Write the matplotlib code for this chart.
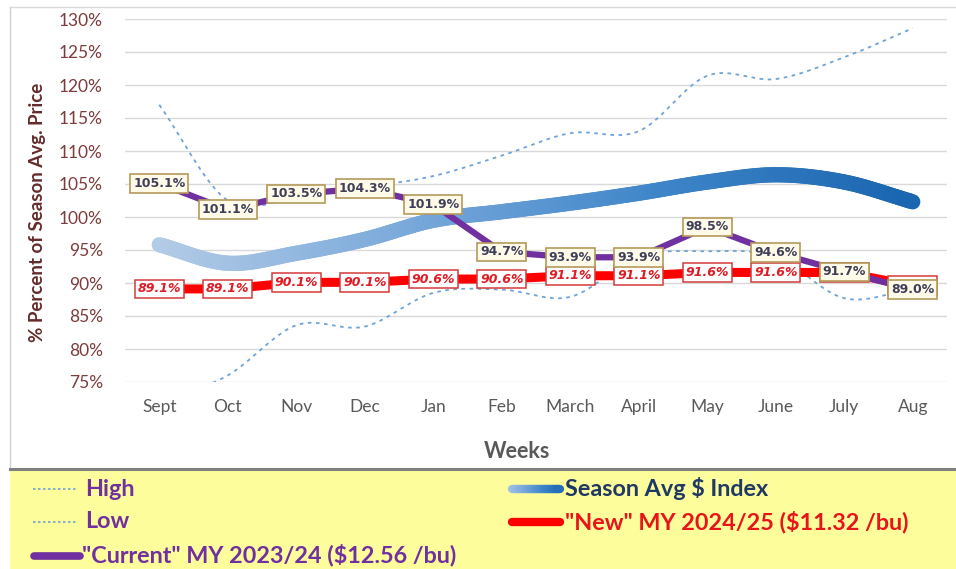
import numpy as np
import matplotlib.pyplot as plt
from matplotlib.collections import LineCollection
from matplotlib.colors import LinearSegmentedColormap
from matplotlib.lines import Line2D
from matplotlib.patches import Rectangle

plt.rcParams["font.family"] = ["Lato", "DejaVu Sans"]

months = ["Sept", "Oct", "Nov", "Dec", "Jan", "Feb", "March", "April",
          "May", "June", "July", "Aug"]
high = [117.0, 102.5, 103.0, 104.5, 106.2, 109.3, 112.7, 113.0, 121.4, 120.9, 124.2, 128.6]
low = [72.0, 76.0, 83.6, 83.4, 88.5, 89.0, 87.9, 94.0, 94.8, 94.0, 87.7, 89.1]
season_idx = [95.8, 93.0, 94.5, 96.6, 99.5, 100.8, 102.1, 103.6, 105.3, 106.4, 105.3, 102.3]
current = [105.1, 101.1, 103.5, 104.3, 101.9, 94.7, 93.9, 93.9, 98.5, 94.6, 91.7, 89.0]
new = [89.1, 89.1, 90.1, 90.1, 90.6, 90.6, 91.1, 91.1, 91.6, 91.6, 91.6, 89.6]
yticks = list(range(75, 131, 5))

PURPLE = "#7030a0"
RED = "#ff0000"
DOT = "#6fa3d6"
NAVY = "#1f3864"
TICK_RED = "#7e3b3b"


def smooth(y, n=24):
    # Excel-style smoothed line (uniform Catmull-Rom through the points)
    y = np.asarray(y, float)
    x = np.arange(len(y), dtype=float)
    m = np.empty_like(y)
    m[1:-1] = (y[2:] - y[:-2]) / 2
    m[0] = y[1] - y[0]
    m[-1] = y[-1] - y[-2]
    xs, ys = [], []
    t = np.linspace(0, 1, n, endpoint=False)
    for i in range(len(y) - 1):
        h00 = 2 * t**3 - 3 * t**2 + 1
        h10 = t**3 - 2 * t**2 + t
        h01 = -2 * t**3 + 3 * t**2
        h11 = t**3 - t**2
        xs.append(x[i] + t)
        ys.append(h00 * y[i] + h10 * m[i] + h01 * y[i + 1] + h11 * m[i + 1])
    xs.append([x[-1]])
    ys.append([y[-1]])
    return np.concatenate(xs), np.concatenate(ys)


fig = plt.figure(figsize=(9.56, 5.69), dpi=100)
W, H = 956, 569
ax = fig.add_axes([125 / W, 1 - 382 / H, 822 / W, 363 / H])

# chart frame + legend band
fig.add_artist(Line2D([10 / W, 10 / W], [1 - 470 / H, 1 - 7 / H], color="#d0d0d0", lw=1))
fig.add_artist(Line2D([10 / W, 1], [1 - 7 / H, 1 - 7 / H], color="#d9d9d9", lw=1))
fig.patches.append(Rectangle((10 / W, 0), 1 - 10 / W, 1 - 470 / H, transform=fig.transFigure,
                             facecolor="#fdfd9c", edgecolor="none", zorder=0))
fig.add_artist(Line2D([10 / W, 1], [1 - 469 / H, 1 - 469 / H], color="#808080", lw=2.2))

x = np.arange(len(months))

for v in yticks:
    ax.axhline(v, color="#d9d9d9", lw=1, zorder=0)

xs, ys = smooth(high)
ax.plot(xs, ys, color=DOT, lw=1.3, ls=(0, (2, 2.5)), zorder=1)
xs, ys = smooth(low)
ax.plot(xs, ys, color=DOT, lw=1.3, ls=(0, (2, 2.5)), zorder=1)

cmap = LinearSegmentedColormap.from_list("idx", ["#b3cbe6", "#7aa9db", "#3f86c9", "#1b66b1"])
xs, ys = smooth(season_idx)
pts = np.column_stack([xs, ys]).reshape(-1, 1, 2)
segs = np.concatenate([pts[:-1], pts[1:]], axis=1)
lc = LineCollection(segs, colors=cmap(np.linspace(0, 1, len(segs))), linewidths=11,
                    capstyle="round", zorder=2)
ax.add_collection(lc)

ax.plot(x, new, color=RED, lw=6.5, zorder=3, solid_capstyle="butt")
ax.plot(x, current, color=PURPLE, lw=4.5, zorder=4, solid_capstyle="butt")

for xi, v in zip(x, new):
    ax.text(xi, v, f"{v:.1f}%", ha="center", va="center", fontsize=9, fontweight="bold",
            fontstyle="italic", color="#e01b24", zorder=5, family=["DejaVu Sans"],
            bbox=dict(boxstyle="square,pad=0.22", fc="white", ec="#d43a3a", lw=1.1))
for xi, v in zip(x, current):
    ax.text(xi, v, f"{v:.1f}%", ha="center", va="center", fontsize=9, fontweight="bold",
            color="#3f3f5a", zorder=6, family=["DejaVu Sans"],
            bbox=dict(boxstyle="square,pad=0.22", fc="#fffbe8", ec="#b59a5a", lw=1.2))

ax.set_xlim(-0.5, len(months) - 0.5)
ax.set_ylim(75, 130)
ax.set_yticks(yticks)
ax.set_yticklabels([f"{v}%" for v in yticks], color=TICK_RED, fontsize=12.5)
ax.set_xticks(x)
ax.set_xticklabels(months, color="#595959", fontsize=12.5)
ax.tick_params(length=0, axis="y", pad=16)
ax.tick_params(length=0, axis="x", pad=12)
for s in ax.spines.values():
    s.set_visible(False)

fig.text(38 / W, 1 - 212 / H, "% Percent of Season Avg. Price", rotation=90, ha="center",
         va="center", fontsize=13.5, fontweight="bold", color="#652b2b")
fig.text(517 / W, 1 - 451 / H, "Weeks", ha="center", va="center", fontsize=15.5,
         fontweight="bold", color="#595959")

# legend
LEG_FONT = ["Lato", "DejaVu Sans"]


def fy(p):
    return 1 - p / H


fig.add_artist(Line2D([33 / W, 77 / W], [fy(489)] * 2, color=DOT, lw=1.2, ls=(0, (1.5, 1.5))))
fig.add_artist(Line2D([33 / W, 77 / W], [fy(522)] * 2, color=DOT, lw=1.2, ls=(0, (1.5, 1.5))))
fig.add_artist(Line2D([34 / W, 80 / W], [fy(556)] * 2, color=PURPLE, lw=5.5, solid_capstyle="round"))
lx = np.linspace(512, 560, 30) / W
lpts = np.column_stack([lx, np.full_like(lx, fy(489))]).reshape(-1, 1, 2)
lsegs = np.concatenate([lpts[:-1], lpts[1:]], axis=1)
fig.add_artist(LineCollection(lsegs, colors=cmap(np.linspace(0.1, 0.9, len(lsegs))),
                              linewidths=6, capstyle="round", transform=fig.transFigure))
fig.add_artist(Line2D([512 / W, 560 / W], [fy(522)] * 2, color=RED, lw=6, solid_capstyle="round"))

LFS = 16.8
fig.text(85 / W, fy(489), "High", ha="left", va="center", fontsize=LFS, fontweight="bold",
         color=PURPLE, family=LEG_FONT)
fig.text(85 / W, fy(522), "Low", ha="left", va="center", fontsize=LFS, fontweight="bold",
         color=PURPLE, family=LEG_FONT)
fig.text(82 / W, fy(555), '"Current" MY 2023/24 ($12.56 /bu)', ha="left", va="center",
         fontsize=LFS, fontweight="bold", color=PURPLE, family=LEG_FONT)
fig.text(565 / W, fy(489), "Season Avg $ Index", ha="left", va="center", fontsize=LFS,
         fontweight="bold", color=NAVY, family=LEG_FONT)
fig.text(565 / W, fy(522), '"New" MY 2024/25 ($11.32 /bu)', ha="left", va="center",
         fontsize=LFS, fontweight="bold", color="#e8141a", family=LEG_FONT)

fig.savefig("out.png", dpi=100, facecolor="white")
